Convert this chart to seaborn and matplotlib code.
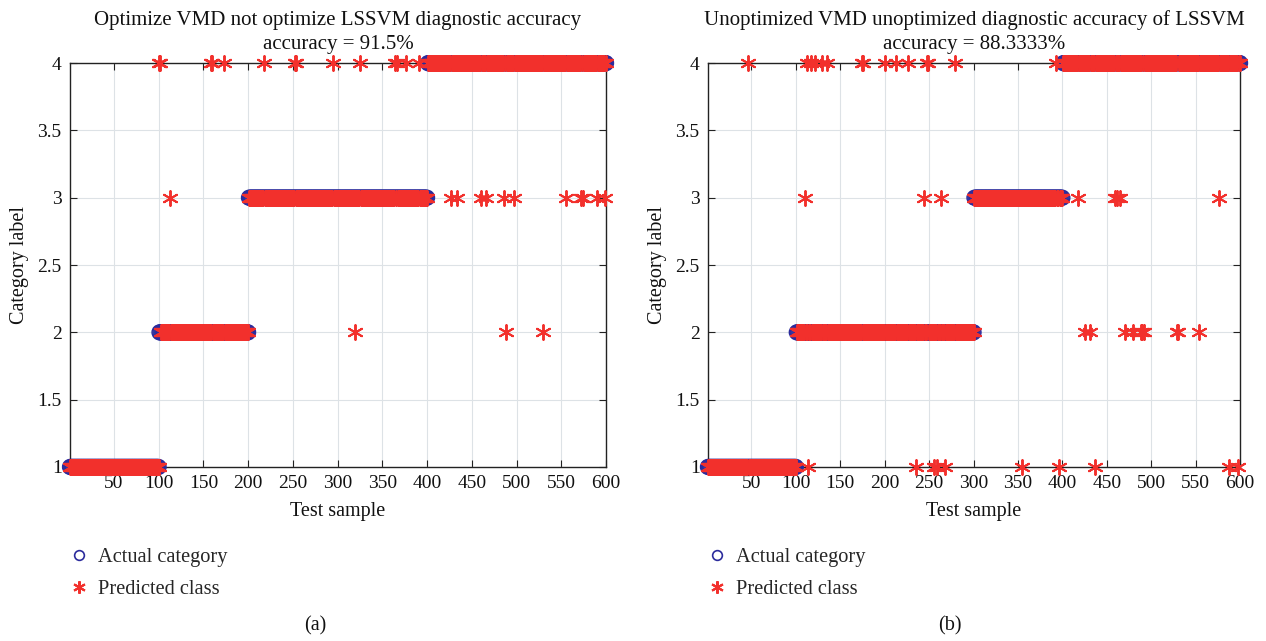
import matplotlib
matplotlib.use("Agg")
import matplotlib.pyplot as plt
import numpy as np
import pandas as pd
import seaborn as sns

# samples per true class (classes 1..4), panel (a) and panel (b)
counts_a = [100, 100, 200, 200]
counts_b = [100, 200, 100, 200]

# misclassified samples: index -> predicted class
err_a_idx = [101, 102, 158, 160, 173, 218, 252, 253, 295, 325, 364, 366, 377, 391,
             113, 427, 433, 460, 466, 486, 497, 555, 572, 574, 590, 599,
             320, 488, 530]
err_a_cls = [4, 4, 4, 4, 4, 4, 4, 4, 4, 4, 4, 4, 4, 4,
             3, 3, 3, 3, 3, 3, 3, 3, 3, 3, 3, 3,
             2, 2, 2]

err_b_idx = [46, 112, 117, 121, 129, 135, 174, 176, 200, 213, 226, 248, 249, 279, 393,
             110, 244, 263, 418, 459, 462, 465, 576,
             426, 431, 470, 480, 488, 490, 492, 529, 530, 554,
             114, 235, 256, 259, 268, 354, 396, 437, 588, 598]
err_b_cls = [4] * 15 + [3] * 8 + [2] * 10 + [1] * 10

titles = ["Optimize VMD not optimize LSSVM diagnostic accuracy\naccuracy = 91.5%",
          "Unoptimized VMD unoptimized diagnostic accuracy of LSSVM\naccuracy = 88.3333%"]
panel_tags = ["(a)", "(b)"]
tag_x = [0.2488, 0.7504]


def build(counts, idx, cls):
    actual = np.repeat([1, 2, 3, 4], counts)
    pred = actual.copy()
    pred[np.array(idx) - 1] = cls
    return pd.DataFrame({"sample": np.arange(1, len(actual) + 1),
                         "actual": actual, "pred": pred})


sns.set_theme(style="whitegrid")
plt.rcParams["font.family"] = ["Liberation Serif", "DejaVu Serif"]

blue = "#2b2b9c"
red = "#f2302c"

fig = plt.figure(figsize=(12.66, 6.41), dpi=100)
positions = [[0.0553, 0.2715, 0.4234, 0.630], [0.5592, 0.2715, 0.4203, 0.630]]
data = [build(counts_a, err_a_idx, err_a_cls), build(counts_b, err_b_idx, err_b_cls)]

for k in range(2):
    ax = fig.add_axes(positions[k])
    df = data[k]
    sns.scatterplot(data=df, x="sample", y="actual", ax=ax, marker="o", s=115,
                    facecolor="none", edgecolor=blue, linewidth=1.0,
                    clip_on=False, zorder=3, legend=False)
    sns.scatterplot(data=df, x="sample", y="pred", ax=ax, marker=(6, 2, 0), s=115,
                    color=red, linewidth=1.4, clip_on=False, zorder=4, legend=False)

    ax.set_xlim(1, 600)
    ax.set_ylim(1, 4)
    ax.set_xticks(np.arange(50, 601, 50))
    ax.set_yticks(np.arange(1, 4.01, 0.5))
    ax.set_yticklabels(["1", "1.5", "2", "2.5", "3", "3.5", "4"])
    ax.grid(True, color="#dde2e6", linewidth=0.8)
    ax.set_axisbelow(True)
    for sp in ax.spines.values():
        sp.set_color("#222222")
        sp.set_linewidth(1.0)
        sp.set_visible(True)
    ax.tick_params(direction="in", length=5, width=0.8, color="#222222",
                   labelsize=14, top=True, right=True, bottom=True, left=True,
                   labelcolor="#111111", pad=6)
    ax.set_xlabel("Test sample", fontsize=14.5, labelpad=7, color="#111111")
    ax.set_ylabel("Category label", fontsize=14.5, labelpad=6, color="#111111")
    ax.set_title(titles[k], fontsize=15, color="#111111", pad=10, linespacing=1.35)

    h1 = plt.Line2D([], [], linestyle="none", marker="o", markersize=7,
                    markerfacecolor="none", markeredgecolor=blue, markeredgewidth=1.2)
    h2 = plt.Line2D([], [], linestyle="none", marker=(6, 2, 0), markersize=9,
                    color=red, markeredgewidth=1.5)
    ax.legend([h1, h2], ["Actual category", "Predicted class"], loc="upper left",
              bbox_to_anchor=(-0.04, -0.155), frameon=False, fontsize=14.7,
              handletextpad=0.3, labelspacing=0.6, handlelength=1.2)

    fig.text(tag_x[k], 0.008, panel_tags[k], ha="center", va="bottom", fontsize=14.5,
             color="#111111")

fig.savefig("out.png", dpi=100, facecolor="white")
